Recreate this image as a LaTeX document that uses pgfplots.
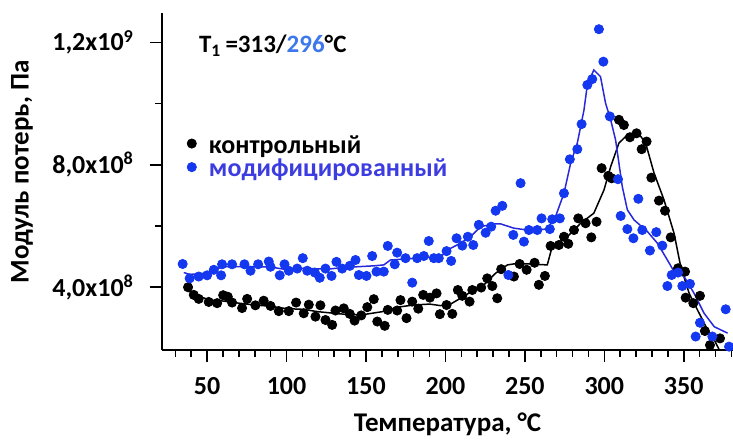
\documentclass[border=0pt]{standalone}
\usepackage{pgfplots}
\pgfplotsset{compat=1.18}
\usepackage{pgfplotstable}
\usepackage{fontspec}
\setmainfont{Carlito}
\definecolor{bdot}{RGB}{20,55,240}
\definecolor{bline}{RGB}{40,40,220}
\definecolor{btext}{RGB}{60,60,225}
\definecolor{ctext}{RGB}{60,120,235}

\pgfplotstableread{
T V
34.6 4.76
39.0 4.29
44.7 4.35
50.0 4.39
54.2 4.57
58.8 4.39
59.4 4.75
65.7 4.75
73.5 4.75
77.3 4.54
82.1 4.75
88.8 4.84
89.9 4.67
95.7 4.39
98.7 4.75
101.4 4.54
106.7 4.61
110.2 4.95
113.0 4.54
117.8 4.48
120.9 4.31
124.5 4.61
128.3 4.37
131.4 4.83
135.0 4.61
139.8 4.70
143.4 4.89
145.5 4.40
150.3 4.37
153.9 5.02
156.6 4.51
161.2 4.51
163.7 5.35
168.1 4.75
169.6 5.13
174.9 4.95
179.1 4.15
182.2 4.95
186.4 5.02
189.5 5.51
192.7 4.95
195.8 4.95
200.7 5.18
203.6 4.86
207.0 5.60
210.6 5.36
214.1 5.65
217.5 5.38
221.0 6.04
225.3 5.78
228.8 5.98
231.6 6.50
235.8 6.66
239.6 4.40
242.7 5.71
247.3 7.40
249.4 5.49
252.5 5.87
257.8 5.87
260.5 6.25
265.7 5.90
267.2 6.22
272.0 6.25
274.6 7.07
278.3 8.18
283.0 8.51
285.7 9.33
289.3 10.61
292.4 10.80
296.6 12.43
299.4 11.37
303.5 9.58
308.6 7.53
310.3 6.33
314.5 5.90
318.3 5.60
321.4 6.89
323.9 5.87
328.7 5.20
332.7 5.80
336.5 5.36
339.7 4.04
342.4 4.40
346.4 4.48
349.1 4.04
353.9 4.11
357.5 2.39
360.2 2.84
368.0 2.39
376.4 3.28
378.5 2.06
}\modpts

\pgfplotstableread{
T V
38.0 4.00
41.6 3.75
44.7 3.62
51.0 3.52
56.3 3.48
60.1 3.74
63.0 3.69
65.7 3.50
72.0 3.32
75.2 3.62
80.4 3.41
85.6 3.56
89.9 3.39
95.1 3.22
101.4 3.22
106.0 3.50
110.8 3.15
114.0 3.43
118.2 3.04
121.3 3.41
124.5 2.93
128.7 2.77
130.8 3.24
136.0 3.31
139.8 3.13
142.8 2.91
147.0 3.08
150.8 3.35
154.9 3.61
157.1 2.88
161.8 2.74
163.7 3.26
169.6 3.24
171.7 3.58
175.5 2.99
179.1 3.53
182.9 3.30
186.0 3.75
190.2 3.66
194.4 3.80
196.5 3.12
200.7 3.42
204.3 3.13
207.8 3.91
210.6 3.72
215.2 3.53
216.9 3.91
222.5 3.99
226.3 4.29
229.5 4.04
232.6 3.64
235.1 4.59
243.1 4.35
246.7 4.76
251.1 4.57
256.1 4.80
258.8 4.08
262.6 4.37
266.2 5.35
271.4 5.38
274.6 5.65
277.3 5.42
280.9 5.87
283.6 6.25
288.2 6.09
291.8 5.63
295.1 6.14
298.3 7.89
302.5 7.64
304.6 7.56
309.2 9.47
312.3 9.30
316.1 8.90
320.3 9.03
323.5 8.51
326.6 8.76
329.6 7.58
334.4 6.83
338.2 6.50
341.8 5.63
346.4 4.62
350.8 4.51
351.2 3.66
356.0 3.48
360.2 3.72
363.3 2.57
366.5 2.11
372.8 2.33
}\ctrlpts

\pgfplotstableread{
T V
38.0 3.88
45.0 3.70
52.0 3.58
60.0 3.55
70.0 3.48
80.0 3.42
90.0 3.38
100.0 3.30
110.0 3.28
120.0 3.20
130.0 3.15
140.0 3.10
150.0 3.12
160.0 3.20
170.0 3.35
180.0 3.42
190.0 3.45
196.9 3.40
203.2 3.45
209.5 3.64
217.9 3.91
224.2 4.08
231.6 4.46
239.0 4.73
245.2 4.78
264.1 4.73
267.2 5.33
276.7 5.65
285.1 6.09
293.4 6.42
299.8 7.18
304.0 7.94
309.2 8.71
314.5 8.98
320.8 9.08
326.0 8.71
331.3 7.73
337.6 6.85
343.9 5.76
348.1 4.67
353.4 3.80
359.7 3.15
365.0 2.60
369.2 2.28
372.4 1.95
}\ctrlline

\pgfplotstableread{
T V
35.3 4.48
39.0 4.42
50.0 4.46
59.4 4.67
75.0 4.68
90.0 4.66
98.3 4.59
110.0 4.62
125.6 4.59
135.0 4.64
144.5 4.67
155.0 4.70
161.2 4.73
165.4 4.89
182.2 4.95
196.9 5.00
203.2 5.27
209.5 5.44
215.8 5.65
222.1 5.98
230.5 6.07
234.7 6.07
243.1 5.93
251.5 5.87
264.1 5.90
269.3 6.31
274.6 7.07
278.8 8.05
283.0 8.71
287.2 9.79
289.3 10.61
293.4 11.10
297.6 10.88
300.8 10.01
304.0 9.47
307.1 8.81
309.2 8.05
311.3 7.29
314.5 6.53
318.7 6.20
327.1 5.82
333.4 5.44
339.7 4.89
343.9 4.51
350.2 4.35
356.5 3.80
362.8 3.15
369.2 2.71
377.6 2.50
}\modline

\begin{document}
\begin{tikzpicture}
\begin{axis}[
  name=ax,
  scale only axis, width=285.5pt, height=168.5pt,
  xmin=21.6, xmax=381, ymin=1.95e8, ymax=1.296e9,
  axis x line=bottom, axis y line=left,
  axis line style={-, line width=0.9pt},
  tick align=outside, major tick length=6pt, minor tick length=3.5pt,
  every tick/.style={black, line width=0.8pt},
  xtick={50,100,...,350}, minor xtick={30,40,...,380},
  ytick={4e8,8e8,1.2e9}, minor ytick={6e8,1e9},
  yticklabels={{4,0x10\textsuperscript{8}},{8,0x10\textsuperscript{8}},{1,2x10\textsuperscript{9}}},
  scaled y ticks=false,
  /pgf/number format/assume math mode=true,
  tick label style={font=\fontsize{13}{15}\selectfont\bfseries},
  xticklabel style={yshift=-4pt},
  yticklabel style={xshift=-4.5pt},
  xlabel={Температура, °C},
  ylabel={Модуль потерь, Па},
  label style={font=\fontsize{13.5}{16}\selectfont\bfseries},
  xlabel style={at={(axis description cs:0.5,-0.2196)}, anchor=center},
  ylabel style={at={(axis description cs:-0.245,0.528)}, anchor=center},
  legend cell align=left,
  legend image code/.code={\draw[mark repeat=2,mark phase=2,#1] plot coordinates {(0cm,2.2pt) (0.3cm,2.2pt) (0.6cm,2.2pt)};},
  legend style={draw=none, fill=none, inner sep=0pt, row sep=0pt,
    at={(axis cs:37.2,8.95e8)}, anchor=north west,
    font=\fontsize{13}{15}\selectfont\bfseries,
    nodes={inner sep=0pt, text height=8.6pt, text depth=3.2pt},
    /tikz/every odd column/.append style={column sep=6.3pt}},
]
\addplot[only marks, mark=*, mark size=2.3pt, black] table[x=T, y expr=\thisrow{V}*1e8] {\ctrlpts};
\addlegendentry{контрольный}
\addplot[only marks, mark=*, mark size=2.3pt, color=bdot] table[x=T, y expr=\thisrow{V}*1e8] {\modpts};
\addlegendentry{\textcolor{btext}{модифицированный}}
\addplot[forget plot, black, line width=0.75pt] table[x=T, y expr=\thisrow{V}*1e8] {\ctrlline};
\addplot[forget plot, bline, line width=0.75pt] table[x=T, y expr=\thisrow{V}*1e8] {\modline};
\node[anchor=base west, font=\fontsize{12.5}{15}\selectfont\bfseries] at (axis cs:40.5,11.67e8)
  {T\textsubscript{1}\,=313/\textcolor{ctext}{296}°C};
\end{axis}
\pgfresetboundingbox
\path[use as bounding box] ([xshift=-81pt,yshift=-46.5pt]ax.south west) rectangle ([yshift=6.5pt]ax.north east);
\end{tikzpicture}
\end{document}
